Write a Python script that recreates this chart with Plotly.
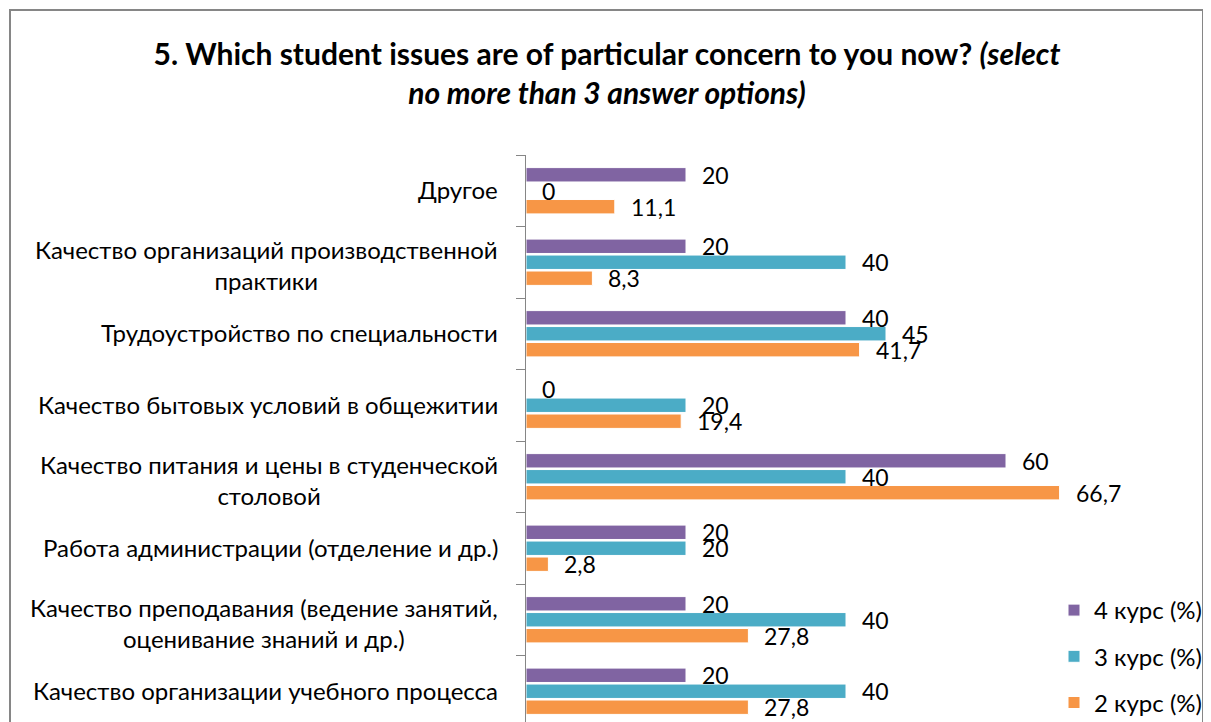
import plotly.graph_objects as go

categories = [
    "Другое",
    "Качество организаций производственной<br>практики",
    "Трудоустройство по специальности",
    "Качество бытовых условий в общежитии",
    "Качество питания и цены в студенческой<br>столовой",
    "Работа администрации (отделение и др.)",
    "Качество преподавания (ведение занятий,<br>оценивание знаний и др.)",
    "Качество организации учебного процесса",
]
course4 = [20, 20, 40, 0, 60, 20, 20, 20]
course3 = [0, 40, 45, 20, 40, 20, 40, 40]
course2 = [11.1, 8.3, 41.7, 19.4, 66.7, 2.8, 27.8, 27.8]
series_names = ["4 курс (%)", "3 курс (%)", "2 курс (%)"]
series_values = [course4, course3, course2]
colors = ["#8064A2", "#4BACC6", "#F79646"]

FONT = "Lato"
# page body has an 8px margin, so the figure is placed 8px in;
# the chart continues below the visible window (as in the cropped reference)
W, H = 1203, 745
L, T, B = 518, 147, 0
R = 45

fig = go.Figure()
for name, vals, col in zip(series_names, series_values, colors):
    fig.add_trace(go.Bar(
        y=categories, x=vals, name=name, orientation="h",
        marker=dict(color=col, line=dict(color="white", width=1)),
        legendgroup=name,
    ))

annotations = []
shifts = [16, 0, -16]
for vals, ys in zip(series_values, shifts):
    for cat, v in zip(categories, vals):
        annotations.append(dict(
            x=v, y=cat, xref="x", yref="y", text=f"{v:g}".replace(".", ","),
            showarrow=False, xanchor="left", yanchor="middle",
            xshift=14, yshift=ys, font=dict(family=FONT, size=23, color="black"),
        ))
for cat in categories:
    annotations.append(dict(
        x=0, y=cat, xref="paper", yref="y", text=cat, showarrow=False,
        xanchor="right", yanchor="middle", align="center", xshift=-26,
        yshift=(-4 if "<br>" in cat else 0) + 1,
        font=dict(family=FONT, size=24, color="black"),
    ))

plot_w = W - L - R
plot_h = H - T - B
shapes = [dict(
    type="rect", xref="paper", yref="paper",
    x0=(2 - L) / plot_w, x1=(1195 - L) / plot_w,
    y0=-0.1, y1=1 + (T - 2) / plot_h,
    line=dict(color="#868686", width=2), fillcolor="rgba(0,0,0,0)", layer="below",
)]

fig.update_layout(
    width=W, height=H,
    margin=dict(l=L, r=R, t=T, b=B),
    paper_bgcolor="white", plot_bgcolor="white",
    barmode="group", bargap=0.33, bargroupgap=0.1,
    title=dict(
        text="<b>5. Which student issues are of particular concern to you now? <i>(select</i></b><br><b><i>no more than 3 answer options)</i></b>",
        x=(607 - 8) / W, xanchor="center", xref="container",
        y=1 - 57 / H, yanchor="top", yref="container",
        font=dict(family=FONT, size=30, color="black"),
    ),
    xaxis=dict(range=[0, 80], visible=False, showgrid=False, zeroline=False),
    yaxis=dict(
        type="category", categoryarray=categories, categoryorder="array",
        range=[-0.5 + plot_h / 71.5, -0.5],
        showticklabels=False, ticks="outside", tickson="boundaries",
        ticklen=9, tickcolor="#868686", showline=True, linecolor="#868686",
        linewidth=1, showgrid=False, zeroline=False,
    ),
    legend=dict(
        x=(1046 - L) / plot_w, y=(H - 580) / plot_h, xanchor="left", yanchor="top",
        font=dict(family=FONT, size=24, color="black"),
        tracegroupgap=12, bgcolor="rgba(0,0,0,0)",
    ),
    annotations=annotations,
    shapes=shapes,
    showlegend=True,
)

fig.write_html("out.html")
